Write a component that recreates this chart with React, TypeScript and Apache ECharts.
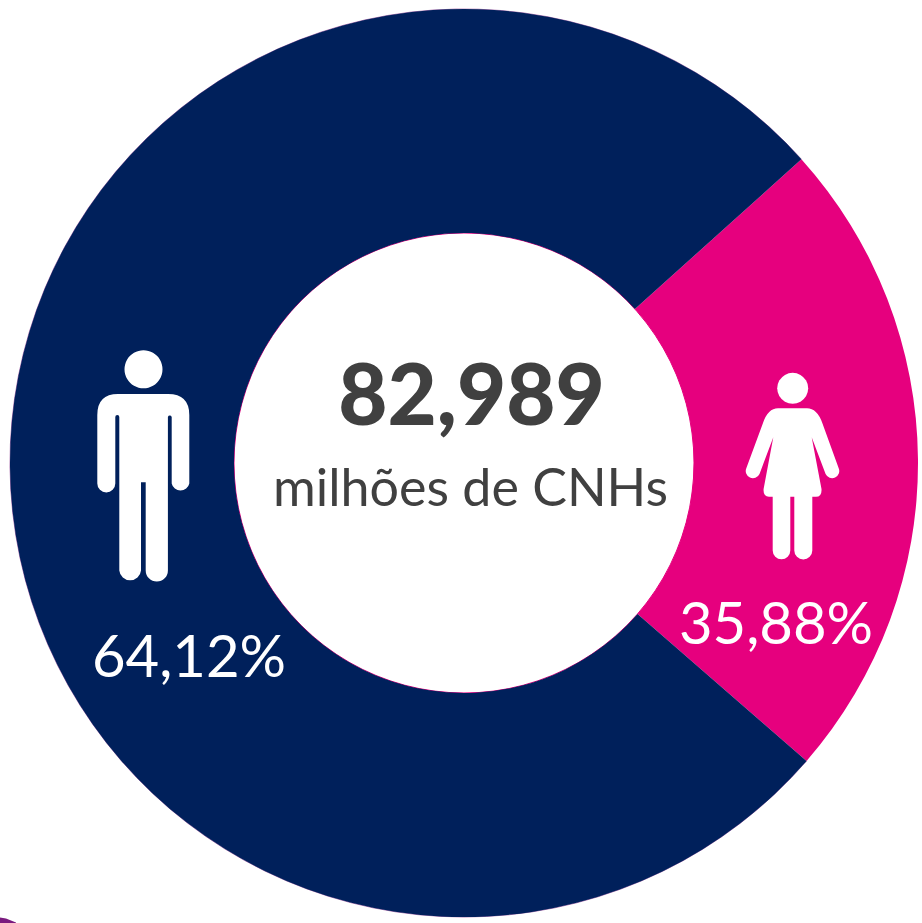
import React, { useEffect, useRef } from "react";
import * as echarts from "echarts";

const sliceNames = ["Mulheres", "Homens"];
const sliceValues = [23.06, 76.94];
const sliceColors = ["#E6007E", "#00205B"];
const percentLabels = ["35,88%", "64,12%"];
const totalLabel = "82,989";
const unitLabel = "milhões de CNHs";

const MAN =
  "M118,394 H168 Q189.3,394 189.3,415 V483.5 A9,9 0 0 1 171.7,483.5 V417 A2,2 0 0 0 167.9,417 V570.5 A11.1,11.1 0 0 1 145.7,570.5 V482.3 H141 V570.5 A10.9,10.9 0 0 1 119.3,570.5 V417 A2,2 0 0 0 115.3,417 V483.5 A9,9 0 0 1 97.3,483.5 V415 Q97.3,394 118,394 Z";
const WOMAN =
  "M778,408.3 H807 Q817,408.3 822.3,423 L838.6,468 A6.8,6.8 0 0 1 825.6,474 L811.7,437.3 L821.5,489 Q822,496.7 816,496.7 H812.3 V550.5 A9,9 0 0 1 794.3,550.5 V496.7 H790.3 V550.5 A8.8,8.8 0 0 1 772.7,550.5 V496.7 H769 Q763,496.7 763.6,489 L773.3,437.3 L759.5,474 A6.8,6.8 0 0 1 746.4,468 L763,423 Q768,408.3 778,408.3 Z";
const BLIP = "M0,917.5 L6,918.5 L16,922.5 L16,923 L0,923 Z";
echarts.graphic.registerShape("manIcon", echarts.graphic.extendPath(MAN, {}));
echarts.graphic.registerShape("womanIcon", echarts.graphic.extendPath(WOMAN, {}));
echarts.graphic.registerShape("cornerBlip", echarts.graphic.extendPath(BLIP, {}));

export default function App() {
  const ref = useRef<HTMLDivElement>(null);
  useEffect(() => {
    const chart = echarts.init(ref.current!, null, { renderer: "svg" });
    const deg = Math.PI / 180;
    chart.setOption({
      animation: false,
      backgroundColor: "#FFFFFF",
      series: [
        {
          type: "pie",
          center: [464, 463],
          radius: [230, 454],
          startAngle: 42,
          clockwise: true,
          label: { show: false },
          labelLine: { show: false },
          emphasis: { disabled: true },
          silent: true,
          z: 2,
          data: sliceNames.map((name, i) => ({
            name,
            value: sliceValues[i],
            itemStyle: { color: sliceColors[i] },
          })),
        },
      ],
      graphic: [
        { type: "arc", z: 1, shape: { cx: 464, cy: 463, r: 454, startAngle: 41 * deg, endAngle: 318 * deg, clockwise: true }, style: { fill: "none", stroke: "#7A1A7E", lineWidth: 1, opacity: 0.6 } },
        { type: "circle", z: 1, shape: { cx: 464, cy: 463, r: 230 }, style: { fill: "#FFFFFF", stroke: "#E6007E", lineWidth: 1 } },
        { type: "manIcon", z: 10, style: { fill: "#FFFFFF" } },
        { type: "circle", z: 10, shape: { cx: 143.5, cy: 369.3, r: 19 }, style: { fill: "#FFFFFF" } },
        { type: "womanIcon", z: 10, style: { fill: "#FFFFFF" } },
        { type: "circle", z: 10, shape: { cx: 792.7, cy: 388.3, r: 15.5 }, style: { fill: "#FFFFFF" } },
        { type: "cornerBlip", z: 10, style: { fill: "#7A1A7E" } },
        { type: "text", z: 10, x: 189, y: 654, style: { text: percentLabels[1], font: "58px Lato", fill: "#FFFFFF", align: "center", verticalAlign: "middle" } },
        { type: "text", z: 10, x: 776, y: 621, style: { text: percentLabels[0], font: "58px Lato", fill: "#FFFFFF", align: "center", verticalAlign: "middle" } },
        { type: "text", z: 10, x: 471.5, y: 392, style: { text: totalLabel, font: "900 85px Lato", fill: "#404040", align: "center", verticalAlign: "middle" } },
        { type: "text", z: 10, x: 470.5, y: 486, style: { text: unitLabel, font: "400 52px Lato", fill: "#404040", align: "center", verticalAlign: "middle" } },
      ],
    });
    return () => chart.dispose();
  }, []);
  return <div ref={ref} style={{ position: "fixed", left: 0, top: 0, width: 922, height: 923 }} />;
}
